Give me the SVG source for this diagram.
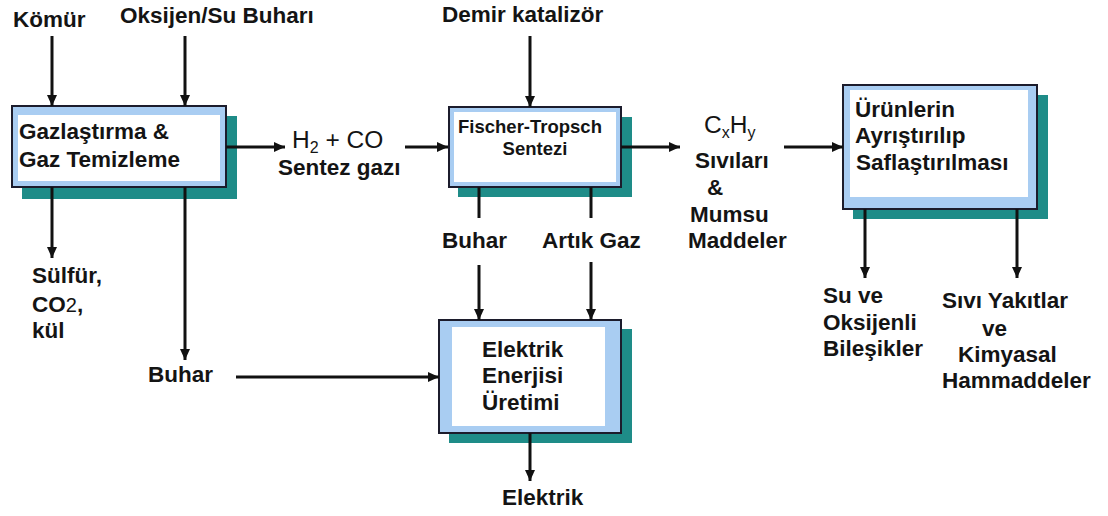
<svg xmlns="http://www.w3.org/2000/svg" width="1108" height="516" viewBox="0 0 1108 516">
<defs>
<style>
.t{font-family:"Liberation Sans",Arial,sans-serif;font-weight:bold;font-size:22.5px;fill:#141414}
.r{font-family:"Liberation Sans",Arial,sans-serif;font-weight:normal;font-size:24.5px;fill:#141414}
.sh{fill:#1e8c88}
.bx{fill:#a9cdf2;stroke:#1c1c2c;stroke-width:2}
.in{fill:#ffffff}
.c{stroke:#111;stroke-width:3;fill:none}
.a{marker-end:url(#ah)}
</style>
<marker id="ah" markerUnits="userSpaceOnUse" markerWidth="12" markerHeight="10" refX="11" refY="5" orient="auto">
<path d="M0,0 L11,5 L0,10 z" fill="#111"/>
</marker>
</defs>
<rect width="1108" height="516" fill="#fff"/>

<g id="n-gaz">
<rect class="sh" x="22" y="116" width="215" height="83"/>
<rect class="bx" x="12" y="106" width="214" height="81"/>
<rect class="in" x="18" y="115" width="202" height="66"/>
<text class="t" x="19" y="139">Gazlaştırma &amp;</text>
<text class="t" x="19" y="167">Gaz Temizleme</text>
</g>

<g id="n-ft">
<rect class="sh" x="458" y="117" width="174" height="80"/>
<rect class="bx" x="449" y="107" width="172" height="80"/>
<rect class="in" x="454" y="112" width="162" height="70"/>
<text class="t" x="530" y="133" text-anchor="middle" style="font-size:18.5px">Fischer-Tropsch</text>
<text class="t" x="535" y="155" text-anchor="middle" style="font-size:18.5px">Sentezi</text>
</g>

<g id="n-urun">
<rect class="sh" x="853" y="95" width="195" height="124"/>
<rect class="bx" x="843" y="85" width="194" height="124"/>
<rect class="in" x="850" y="90" width="178" height="107"/>
<text class="t" x="855" y="117">Ürünlerin</text>
<text class="t" x="855" y="143">Ayrıştırılıp</text>
<text class="t" x="856" y="170">Saflaştırılması</text>
</g>

<g id="n-elek">
<rect class="sh" x="449" y="329" width="183" height="114"/>
<rect class="bx" x="439" y="320" width="182" height="113"/>
<rect class="in" x="452" y="327" width="153" height="99"/>
<text class="t" x="482" y="357">Elektrik</text>
<text class="t" x="482" y="383">Enerjisi</text>
<text class="t" x="482" y="410">Üretimi</text>
</g>

<g id="labels">
<text class="t" x="13" y="27">Kömür</text>
<text class="t" x="120" y="23">Oksijen/Su Buharı</text>
<text class="t" x="442" y="22">Demir katalizör</text>
<text class="r" x="292" y="148">H<tspan dy="5" style="font-size:16px">2</tspan><tspan dy="-5"> + CO</tspan></text>
<text class="t" x="278" y="175">Sentez gazı</text>
<text class="r" x="704" y="133">C<tspan dy="5" style="font-size:16px">x</tspan><tspan dy="-5">H</tspan><tspan dy="5" style="font-size:16px">y</tspan></text>
<text class="t" x="695" y="168">Sıvıları</text>
<text class="t" x="707" y="195">&amp;</text>
<text class="t" x="690" y="222">Mumsu</text>
<text class="t" x="688" y="248">Maddeler</text>
<text class="t" x="442" y="248">Buhar</text>
<text class="t" x="542" y="248">Artık Gaz</text>
<text class="t" x="32" y="283">Sülfür,</text>
<text class="t" x="32" y="312">CO<tspan style="font-weight:normal;font-size:20px">2</tspan>,</text>
<text class="t" x="32" y="338">kül</text>
<text class="t" x="148" y="382">Buhar</text>
<text class="t" x="502" y="505">Elektrik</text>
<text class="t" x="823" y="303">Su ve</text>
<text class="t" x="823" y="330">Oksijenli</text>
<text class="t" x="823" y="356">Bileşikler</text>
<text class="t" x="942" y="308">Sıvı Yakıtlar</text>
<text class="t" x="982" y="336">ve</text>
<text class="t" x="958" y="362">Kimyasal</text>
<text class="t" x="942" y="388">Hammaddeler</text>
</g>

<g id="connectors">
<line class="c a" x1="52" y1="36" x2="52" y2="106"/>
<line class="c a" x1="185" y1="36" x2="185" y2="106"/>
<line class="c a" x1="530" y1="36" x2="530" y2="107"/>
<line class="c a" x1="226" y1="147" x2="285" y2="147"/>
<line class="c a" x1="405" y1="147" x2="448" y2="147"/>
<line class="c a" x1="621" y1="147" x2="680" y2="147"/>
<line class="c a" x1="784" y1="147" x2="843" y2="147"/>
<line class="c a" x1="52" y1="187" x2="52" y2="258"/>
<line class="c a" x1="185" y1="187" x2="185" y2="360"/>
<line class="c" x1="479" y1="187" x2="479" y2="218"/>
<line class="c" x1="591" y1="187" x2="591" y2="218"/>
<line class="c a" x1="479" y1="265" x2="479" y2="320"/>
<line class="c a" x1="591" y1="262" x2="591" y2="320"/>
<line class="c a" x1="236" y1="377" x2="439" y2="377"/>
<line class="c a" x1="530" y1="433" x2="530" y2="481"/>
<line class="c a" x1="865" y1="209" x2="865" y2="278"/>
<line class="c a" x1="1017" y1="209" x2="1017" y2="278"/>
</g>
</svg>
